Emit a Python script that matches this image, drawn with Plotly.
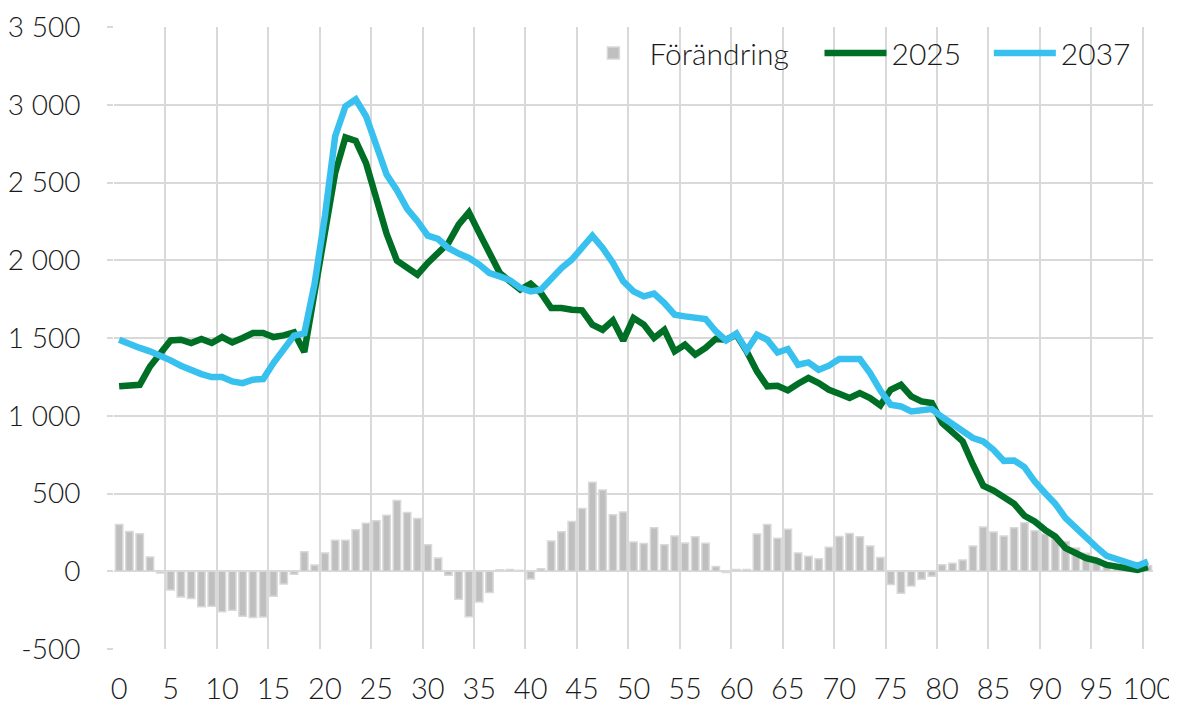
import plotly.graph_objects as go

ages = list(range(0, 101))

pop_2025 = [1189, 1199, 1199, 1317, 1403, 1484, 1489, 1468, 1494, 1468,
            1506, 1472, 1500, 1532, 1532, 1506, 1517, 1536, 1410, 1790,
            2176, 2562, 2790, 2768, 2625, 2400, 2170, 1998, 1948, 1907,
            1983, 2047, 2111, 2229, 2308, 2176, 2057, 1918, 1864, 1811,
            1849, 1790, 1693, 1693, 1682, 1678, 1586, 1553, 1613, 1483,
            1629, 1586, 1500, 1553, 1414, 1457, 1393, 1436, 1494, 1489,
            1521, 1414, 1285, 1189, 1193, 1163, 1206, 1243, 1210, 1167,
            1141, 1114, 1146, 1114, 1067, 1167, 1199, 1124, 1092, 1082,
            953, 899, 835, 685, 550, 519, 477, 434, 357, 320,
            266, 223, 149, 120, 84, 69, 41, 30, 20, 9,
            26]

pop_2037 = [1489, 1457, 1436, 1414, 1388, 1356, 1322, 1292, 1268, 1249,
            1249, 1221, 1210, 1232, 1236, 1339, 1425, 1515, 1530, 1850,
            2283, 2797, 2990, 3035, 2926, 2744, 2551, 2450, 2330, 2251,
            2158, 2137, 2079, 2043, 2015, 1972, 1918, 1896, 1871, 1822,
            1800, 1811, 1886, 1950, 2004, 2079, 2158, 2079, 1983, 1865,
            1800, 1768, 1785, 1725, 1650, 1639, 1629, 1622, 1543, 1485,
            1528, 1420, 1521, 1489, 1407, 1429, 1328, 1343, 1296, 1322,
            1365, 1360, 1365, 1275, 1162, 1071, 1060, 1028, 1034, 1043,
            992, 949, 906, 857, 835, 781, 710, 712, 670, 577,
            503, 434, 342, 277, 213, 155, 99, 78, 59, 35,
            62]

change = [300, 256, 241, 92, -12, -120, -165, -175, -228, -225,
          -260, -250, -290, -298, -294, -160, -82, -20, 125, 40,
          118, 200, 200, 267, 308, 325, 360, 455, 378, 340,
          170, 85, -25, -180, -293, -198, -137, 10, 12, 6,
          -50, 16, 194, 254, 320, 404, 573, 523, 364, 381,
          188, 178, 280, 171, 226, 181, 222, 180, 30, -8,
          12, 12, 240, 300, 213, 270, 118, 96, 80, 155,
          224, 242, 222, 163, 88, -85, -141, -95, -52, -32,
          42, 52, 73, 162, 284, 252, 226, 280, 312, 260,
          240, 214, 192, 150, 115, 80, 50, 40, 38, 26,
          36]

x_tick_vals = list(range(0, 101, 5))
x_tick_text = [str(v) for v in x_tick_vals]
y_tick_vals = [-500, 0, 500, 1000, 1500, 2000, 2500, 3000, 3500]
y_tick_text = ["-500", "0", "500", "1 000", "1 500", "2 000", "2 500", "3 000", "3 500"]

FONT = "Lato"
TXT = "#1a1a1a"
GRID = "#D9D9D9"
LEGFONT = dict(family=FONT, size=30, color=TXT, weight=300)

fig = go.Figure()
fig.add_trace(go.Bar(
    x=ages, y=change, name="Förändring", width=0.72, legend="legend",
    marker=dict(color="#BFBFBF", line=dict(color="#D9D9D9", width=1.5)),
))
fig.add_trace(go.Scatter(
    x=ages, y=pop_2025, name="2025", mode="lines", legend="legend2",
    line=dict(color="#006F26", width=6.5),
))
fig.add_trace(go.Scatter(
    x=ages, y=pop_2037, name="2037", mode="lines", legend="legend3",
    line=dict(color="#38C1EE", width=6.5),
))

leg_common = dict(orientation="h", xanchor="left", y=1.0, yanchor="top",
                  bgcolor="rgba(255,255,255,0)", font=LEGFONT, itemwidth=62)

fig.update_layout(
    width=1169, height=697,
    margin=dict(l=106, r=24, t=19, b=56),
    paper_bgcolor="white", plot_bgcolor="white",
    font=dict(family=FONT, size=29, color=TXT, weight=300),
    showlegend=True,
    legend=dict(x=0.446, **leg_common),
    legend2=dict(x=0.679, **leg_common),
    legend3=dict(x=0.842, **leg_common),
)
fig.update_xaxes(
    range=[-0.5, 100.5], tickmode="array", tickvals=x_tick_vals, ticktext=x_tick_text,
    showgrid=False, zeroline=False, showline=False, ticks="",
    ticklabelstandoff=20, automargin=False,
    minor=dict(tickmode="linear", tick0=-0.5, dtick=5, showgrid=True,
               gridcolor=GRID, gridwidth=2, ticks=""),
)
fig.update_yaxes(
    range=[-500, 3500], tickmode="array", tickvals=y_tick_vals, ticktext=y_tick_text,
    tickfont=dict(family=FONT, size=28, color=TXT, weight=300),
    showgrid=True, gridcolor=GRID, gridwidth=2, zeroline=False, showline=False,
    ticks="outside", ticklen=6, tickcolor=GRID, tickwidth=2,
    ticklabelstandoff=21, automargin=False,
)

fig.write_html("out.html")
